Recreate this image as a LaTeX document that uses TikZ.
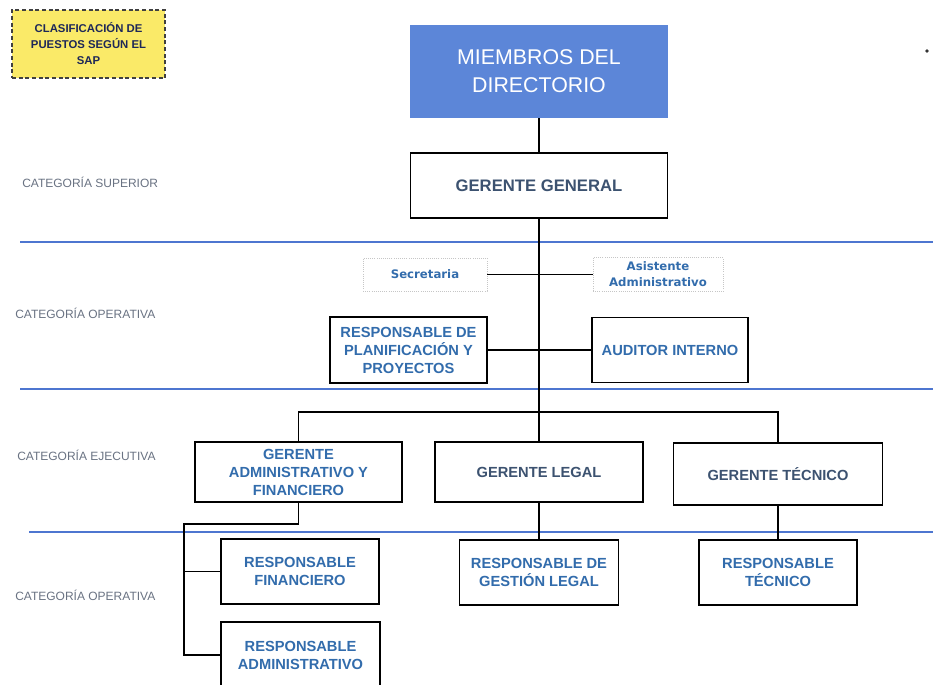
\documentclass[tikz,border=0pt]{standalone}
\usepackage{fontspec}
\setmainfont{Liberation Sans}
\newfontfamily\smallbold{DejaVu Sans}

\definecolor{catblue}{RGB}{78,118,208}
\definecolor{dirblue}{RGB}{92,134,216}
\definecolor{gertext}{RGB}{60,82,112}
\definecolor{restext}{RGB}{50,108,172}
\definecolor{labtext}{RGB}{105,114,130}
\definecolor{clasyel}{RGB}{250,234,104}
\definecolor{clastext}{RGB}{30,40,88}

\tikzset{
  box/.style={draw, line width=1.3pt, fill=white, align=center, inner sep=0pt,
    font=\fontsize{11}{13.5}\selectfont\bfseries},
  gerbox/.style={box, text=gertext},
  resbox/.style={box, text=restext},
  faintbox/.style={draw=gray!45, densely dotted, line width=0.6pt, align=center, inner sep=0pt,
    text=restext, font=\smallbold\fontsize{8.8}{12}\selectfont\bfseries},
  catline/.style={catblue, line width=2pt},
  catlabel/.style={anchor=west, inner sep=0pt, text=labtext, font=\fontsize{9}{11}\selectfont},
  link/.style={line width=1.3pt}
}

\begin{document}
\begin{tikzpicture}[x=0.75pt, y=-0.75pt]

\useasboundingbox (0,0) rectangle (933,685) ;
\clip (0,0) rectangle (933,685) ;

\draw [catline] (20,242) to (933,242) ;
\draw [catline] (20,389) to (933,389) ;
\draw [catline] (29,532) to (933,532) ;

\node (lsup) [catlabel] at (22,182) {CATEGORÍA SUPERIOR} ;
\node (lop1) [catlabel] at (15,313) {CATEGORÍA OPERATIVA} ;
\node (lejec) [catlabel] at (17,455) {CATEGORÍA EJECUTIVA} ;
\node (lop2) [catlabel] at (15,595) {CATEGORÍA OPERATIVA} ;

\node (clasif) [draw=black!75, densely dashed, line width=0.8pt, fill=clasyel, align=center,
  inner sep=0pt, minimum width=114.75pt, minimum height=51pt, text=clastext,
  font=\fontsize{8.5}{12}\selectfont\bfseries] at (88.5,44)
  {CLASIFICACIÓN DE\\PUESTOS SEGÚN EL\\SAP} ;

\node (mdir) [fill=dirblue, align=center, inner sep=0pt, minimum width=193.5pt, minimum height=69.75pt,
  text=white, font=\fontsize{16}{21}\selectfont] at (539,71.5) {MIEMBROS DEL\\DIRECTORIO} ;

\node (gg) [gerbox, minimum width=192.75pt, minimum height=48.75pt, font=\fontsize{12.5}{15}\selectfont\bfseries]
  at (539,185.5) {GERENTE GENERAL} ;

\node (secr) [faintbox, minimum width=93pt, minimum height=24.75pt] at (425,274.5) {Secretaria} ;
\node (asist) [faintbox, minimum width=97.5pt, minimum height=25.5pt] at (658,274.5) {Asistente\\Administrativo} ;

\node (plan) [resbox, minimum width=117.75pt, minimum height=49.5pt] at (408.5,350)
  {RESPONSABLE DE\\PLANIFICACIÓN Y\\PROYECTOS} ;
\node (audit) [resbox, minimum width=117pt, minimum height=48.75pt] at (670,350) {AUDITOR INTERNO} ;

\node (gadm) [resbox, minimum width=155.25pt, minimum height=45pt] at (298.5,472)
  {GERENTE\\ADMINISTRATIVO Y\\FINANCIERO} ;
\node (glegal) [gerbox, minimum width=156pt, minimum height=45pt] at (539,472) {GERENTE LEGAL} ;
\node (gtec) [gerbox, minimum width=156.75pt, minimum height=46.5pt] at (778,474) {GERENTE TÉCNICO} ;

\node (rfin) [resbox, minimum width=118.5pt, minimum height=48.75pt] at (300,571.5)
  {RESPONSABLE\\FINANCIERO} ;
\node (radm) [resbox, minimum width=119.25pt, minimum height=49.5pt] at (300.5,655)
  {RESPONSABLE\\ADMINISTRATIVO} ;
\node (rgl) [resbox, minimum width=119.25pt, minimum height=48.75pt] at (539,572.5)
  {RESPONSABLE DE\\GESTIÓN LEGAL} ;
\node (rtec) [resbox, minimum width=118.5pt, minimum height=48.75pt] at (778,572.5)
  {RESPONSABLE\\TÉCNICO} ;

\coordinate (bus) at (539,412) ;
\coordinate (rama) at (184,524) ;

\draw [link] (mdir) to (gg) ;
\draw [link] (gg) to (glegal) ;
\draw [link] (secr) to (asist) ;
\draw [link] (plan) to (audit) ;
\draw [link] (gadm.north) |- (bus) -| (gtec.north) ;
\draw [link] (gadm.south) |- (rama) |- (radm.west) ;
\draw [link] (rama |- rfin.west) to (rfin.west) ;
\draw [link] (glegal) to (rgl) ;
\draw [link] (gtec) to (rtec) ;

\fill [black!80] (927,51) circle [radius=1.4pt] ;

\end{tikzpicture}
\end{document}
